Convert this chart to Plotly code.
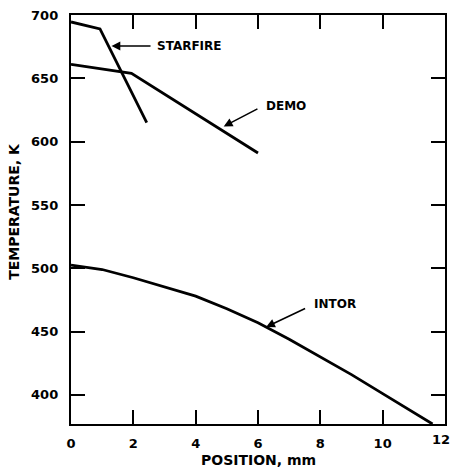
import plotly.graph_objects as go

starfire_x = [0, 0.93, 2.43]
starfire_y = [694.5, 689, 615]
demo_x = [0, 1.94, 6.0]
demo_y = [661, 654, 591]
intor_x = [0, 1, 2, 3, 4, 5, 6, 7, 8, 9, 10, 11, 11.6]
intor_y = [502.5, 499, 492.5, 485.5, 478, 468, 457, 444, 430, 416, 401, 386, 377]

x_ticks = [0, 2, 4, 6, 8, 10, 12]
y_ticks = [400, 450, 500, 550, 600, 650, 700]

FONT = "DejaVu Sans"
line = dict(color="black", width=2.8)

fig = go.Figure()
for xs, ys in [(starfire_x, starfire_y), (demo_x, demo_y), (intor_x, intor_y)]:
    fig.add_trace(go.Scatter(x=xs, y=ys, mode="lines", line=line, showlegend=False,
                             hoverinfo="skip"))

# labels with arrows: (text, arrow head x, y, arrow tail x, y, text x, y)
labels = [
    ("STARFIRE", 1.3, 675.5, 2.6, 675.5, 2.68, 675.5),
    ("DEMO", 4.9, 612, 6.03, 626.5, 6.2, 628),
    ("INTOR", 6.26, 453.7, 7.56, 468.7, 7.72, 472),
]
for text, hx, hy, tx, ty, lx, ly in labels:
    fig.add_annotation(x=hx, y=hy, ax=tx, ay=ty, xref="x", yref="y",
                       axref="x", ayref="y", text="", showarrow=True,
                       arrowhead=2, arrowsize=1.1, arrowwidth=1.6, arrowcolor="black")
    fig.add_annotation(x=lx, y=ly, xref="x", yref="y", text="<b>%s</b>" % text,
                       showarrow=False, xanchor="left", yanchor="middle",
                       font=dict(family=FONT, size=12, color="black"))

fig.add_annotation(x=-0.151, y=0.52, xref="paper", yref="paper",
                   text="<b>TEMPERATURE, K</b>", textangle=-90, showarrow=False,
                   xanchor="center", yanchor="middle",
                   font=dict(family=FONT, size=14, color="black"))
fig.add_annotation(x=0.5, y=-0.088, xref="paper", yref="paper",
                   text="<b>POSITION, mm</b>", showarrow=False, yanchor="middle",
                   font=dict(family=FONT, size=14, color="black"))

# last x tick label sits at the right edge, drawn shifted left so it fits
fig.add_annotation(x=x_ticks[-1], y=-0.038, xref="x", yref="paper",
                   text="<b>%d</b>" % x_ticks[-1], showarrow=False,
                   xanchor="right", yanchor="middle",
                   font=dict(family=FONT, size=13, color="black"), xshift=7)

axis_common = dict(showgrid=False, zeroline=False, showline=True, linecolor="black",
                   linewidth=2.4, mirror="ticks", ticks="inside", ticklen=14,
                   tickwidth=2, tickcolor="black",
                   tickfont=dict(family=FONT, size=13, color="black"))

fig.update_xaxes(range=[0, 12], tickvals=x_ticks, ticklabelstandoff=6,
                 ticktext=["<b>%d</b>" % v if v != x_ticks[-1] else "" for v in x_ticks],
                 **axis_common)
fig.update_yaxes(range=[377, 700], tickvals=y_ticks, ticklabelstandoff=8,
                 ticktext=["<b>%d</b>" % v for v in y_ticks], **axis_common)

fig.update_layout(width=454, height=467, margin=dict(l=71, r=7, t=15, b=43),
                  plot_bgcolor="white", paper_bgcolor="white", showlegend=False,
                  hovermode=False)

fig.write_html("out.html", config={"displayModeBar": False},
               post_script="document.body.style.margin='0';document.body.style.overflow='hidden';")
